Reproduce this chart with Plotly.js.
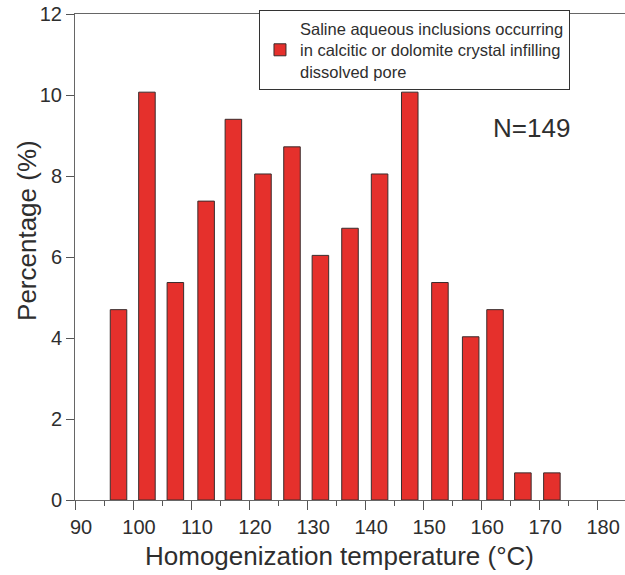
<!DOCTYPE html>
<html>
<head>
<meta charset="utf-8">
<script src="https://cdn.plot.ly/plotly-3.0.1.min.js"></script>
<style>
  html, body { margin: 0; padding: 0; background: #ffffff; }
  #chart { width: 625px; height: 575px; }
</style>
</head>
<body>
<div id="chart"></div>
<script>
// Bin centres (°C) as drawn in the reference
const binCenters = [97.5, 102.4, 107.3, 112.6, 117.3, 122.4, 127.4, 132.3,
                    137.4, 142.5, 147.7, 152.9, 158.2, 162.4, 167.2, 172.2];
// Percentage of inclusions per bin (N = 149)
const percentages = [4.70, 10.07, 5.37, 7.38, 9.40, 8.05, 8.72, 6.04,
                     6.71, 8.05, 10.07, 5.37, 4.03, 4.70, 0.67, 0.67];
const seriesName = 'Saline aqueous inclusions occurring<br>in calcitic or dolomite crystal infilling<br>dissolved pore';
const xTickVals = [90, 100, 110, 120, 130, 140, 150, 160, 170, 180];
const yTickVals = [0, 2, 4, 6, 8, 10, 12];
const sampleLabel = 'N=149';
const xTitle = 'Homogenization temperature (°C)';
const yTitle = 'Percentage (%)';

const FONT = 'Liberation Sans, Arial, Helvetica, sans-serif';
const TXT = '#2e2e2e';

const trace = {
  type: 'bar',
  x: binCenters,
  y: percentages,
  width: 2.85,
  name: seriesName,
  showlegend: true,
  marker: { color: '#e5302c', line: { color: '#3a2c2c', width: 1 } },
  hoverinfo: 'x+y'
};

const layout = {
  width: 625,
  height: 575,
  margin: { l: 75, r: 0, t: 14, b: 75, pad: 0 },
  paper_bgcolor: '#ffffff',
  plot_bgcolor: '#ffffff',
  font: { family: FONT, color: TXT, size: 20 },
  showlegend: true,
  xaxis: {
    range: [90, 184.8],
    tickvals: xTickVals,
    ticktext: xTickVals.map(String),
    ticks: 'outside',
    ticklen: 9,
    tickwidth: 1,
    tickcolor: '#555',
    ticklabelshift: 6,
    minor: { dtick: 5, tick0: 95, ticks: 'outside', ticklen: 5, tickwidth: 1, tickcolor: '#555', showgrid: false },
    showgrid: false,
    zeroline: false,
    showline: true,
    linecolor: '#666',
    linewidth: 1,
    mirror: true,
    tickfont: { family: FONT, size: 20, color: TXT }
  },
  yaxis: {
    range: [0, 12],
    tickvals: yTickVals,
    ticks: 'outside',
    ticklen: 8,
    tickwidth: 1,
    tickcolor: '#555',
    showgrid: false,
    zeroline: false,
    showline: true,
    linecolor: '#666',
    linewidth: 1,
    tickfont: { family: FONT, size: 20, color: TXT }
  },
  legend: {
    x: 0.3345, xanchor: 'left',
    y: 1.008, yanchor: 'top',
    bgcolor: '#ffffff',
    bordercolor: '#333',
    borderwidth: 1,
    entrywidthmode: 'pixels',
    entrywidth: 300,
    font: { family: FONT, size: 16.5, color: TXT },
    itemclick: false,
    itemdoubleclick: false
  },
  annotations: [
    {
      text: sampleLabel, xref: 'x', yref: 'y', x: 168.6, y: 9.18,
      showarrow: false, xanchor: 'center', yanchor: 'middle',
      font: { family: FONT, size: 26, color: TXT }
    },
    {
      text: xTitle, xref: 'paper', yref: 'paper', x: 0.48, y: -0.115,
      showarrow: false, xanchor: 'center', yanchor: 'middle',
      font: { family: FONT, size: 26, color: TXT }
    },
    {
      text: yTitle, xref: 'paper', yref: 'paper', x: -0.0873, y: 0.5556,
      textangle: -90,
      showarrow: false, xanchor: 'center', yanchor: 'middle',
      font: { family: FONT, size: 26, color: TXT }
    }
  ]
};

Plotly.newPlot('chart', [trace], layout, { displayModeBar: false, staticPlot: true });
</script>
</body>
</html>
